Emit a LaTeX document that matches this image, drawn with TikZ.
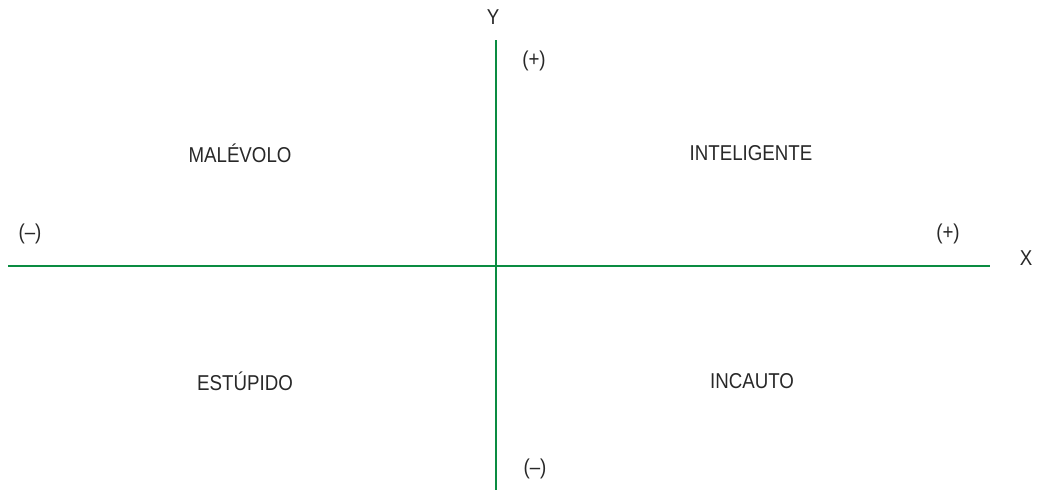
\documentclass[tikz,border=0pt]{standalone}
\usepackage{fontspec}
\setmainfont{Liberation Sans}
\newfontfamily\lblfont[FakeStretch=0.87,Ligatures=TeX]{Liberation Sans}
\definecolor{axisgreen}{RGB}{10,140,65}
\definecolor{txt}{RGB}{40,40,40}
\begin{document}
\begin{tikzpicture}[x=1pt,y=-1pt,
  lbl/.style={text=txt,font=\lblfont\fontsize{21.5}{24}\selectfont,inner sep=0pt},
  axisline/.style={draw=axisgreen,line width=2.6pt}]
\useasboundingbox (0,0) rectangle (1043,490);
\coordinate (xl) at (8,266);
\coordinate (xr) at (990,266);
\coordinate (yt) at (496,40);
\coordinate (yb) at (496,490);
\draw[axisline] (xl) -- (xr);
\draw[axisline] (yt) -- (yb);
\node[lbl] (ylab) at (493,17) {Y};
\node[lbl] (xlab) at (1026,258) {X};
\node[lbl] (yp) at (534,61) {(+)};
\node[lbl] (ym) at (535,469) {(–)};
\node[lbl] (xm) at (30,234) {(–)};
\node[lbl] (xp) at (948,234) {(+)};
\node[lbl] (q2) at (240,153) {MALÉVOLO};
\node[lbl] (q1) at (751,153) {INTELIGENTE};
\node[lbl] (q3) at (245,381) {ESTÚPIDO};
\node[lbl] (q4) at (752,381) {INCAUTO};
\end{tikzpicture}
\end{document}
